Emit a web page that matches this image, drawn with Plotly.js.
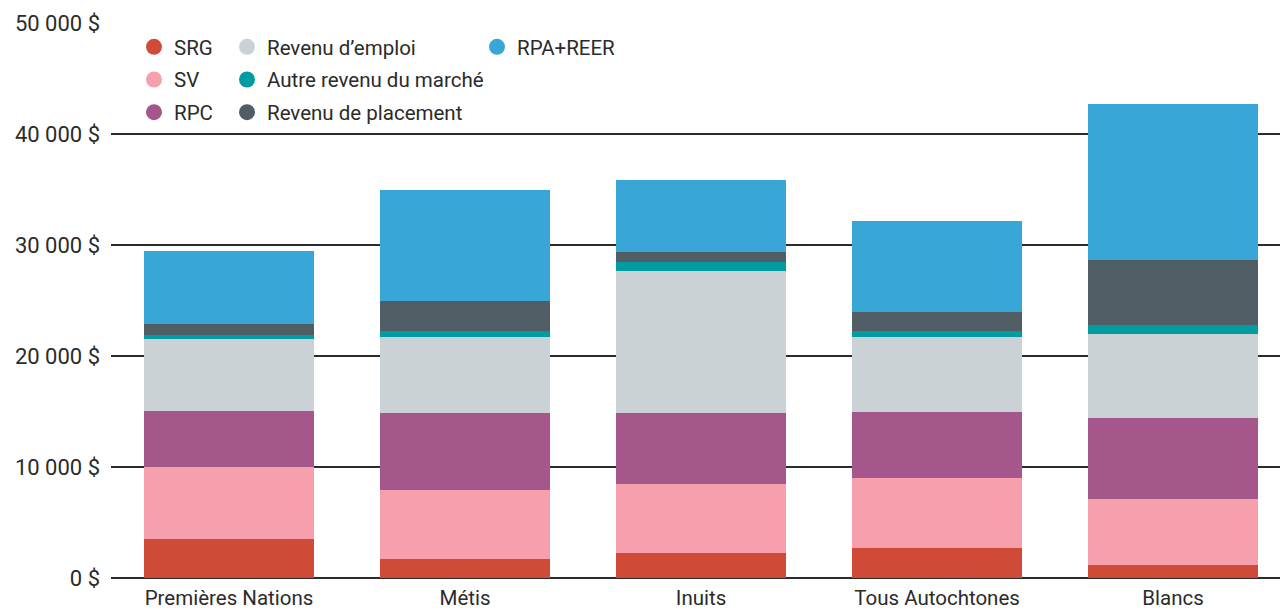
<!DOCTYPE html>
<html>
<head>
<meta charset="utf-8">
<script src="https://cdn.plot.ly/plotly-3.0.1.min.js"></script>
<style>
  html, body { margin: 0; padding: 0; background: #fff; }
  #chart { width: 1280px; height: 609px; }
</style>
</head>
<body>
<div id="chart"></div>
<script>
const groups = ["Premières Nations", "Métis", "Inuits", "Tous Autochtones", "Blancs"];

const srg = [3540, 1740, 2250, 2700, 1170];
const sv = [6460, 6210, 6220, 6310, 5950];
const rpc = [5070, 6940, 6400, 5950, 7300];
const emploi = [6490, 6850, 12790, 6760, 7570];
const autre = [360, 540, 810, 540, 810];
const placement = [990, 2700, 900, 1710, 5860];
const rpaReer = [6580, 10010, 6490, 8200, 14050];

const yTickVals = [0, 10000, 20000, 30000, 40000, 50000];
const yTickText = ["0 $", "10 000 $", "20 000 $", "30 000 $", "40 000 $", "50 000 $"];

const FONT = "Roboto, sans-serif";
const INK = "#2b2b2b";

const SERIES = [
  { name: "SRG", values: srg, color: "#d04b37", legend: "legend" },
  { name: "SV", values: sv, color: "#f5a0ac", legend: "legend" },
  { name: "RPC", values: rpc, color: "#a5568b", legend: "legend" },
  { name: "Revenu d’emploi", values: emploi, color: "#cad2d5", legend: "legend2" },
  { name: "Autre revenu du marché", values: autre, color: "#009ca1", legend: "legend2" },
  { name: "Revenu de placement", values: placement, color: "#515d65", legend: "legend2" },
  { name: "RPA+REER", values: rpaReer, color: "#38a6d6", legend: "legend3" },
];

const bars = SERIES.map((s) => ({
  type: "bar",
  name: s.name,
  x: groups,
  y: s.values,
  marker: { color: s.color, line: { width: 0 } },
  showlegend: false,
  hoverinfo: "x+y+name",
}));

// circle swatches for the legend (bar legends would draw squares)
const swatches = SERIES.map((s, i) => ({
  type: "scatter",
  mode: "markers",
  name: s.name,
  x: [null],
  y: [null],
  marker: { color: s.color, size: 16, symbol: "circle" },
  legend: s.legend,
  legendgroup: "g" + i,
  hoverinfo: "skip",
}));

// plot area: x 111..1280, y 23..578
function legendAt(left, top) {
  return {
    xref: "paper",
    yref: "paper",
    x: (left - 111) / 1169,
    y: 1 - (top - 23) / 555,
    xanchor: "left",
    yanchor: "top",
    bgcolor: "rgba(0,0,0,0)",
    borderwidth: 0,
    font: { family: FONT, size: 20.5, color: INK },
    tracegroupgap: 3,
    itemsizing: "trace",
  };
}

const layout = {
  width: 1280,
  height: 609,
  margin: { l: 111, r: 0, t: 23, b: 31 },
  paper_bgcolor: "#fff",
  plot_bgcolor: "#fff",
  font: { family: FONT, size: 20, color: INK },
  barmode: "stack",
  bargap: 0.28,
  showlegend: true,
  legend: legendAt(134, 27),
  legend2: legendAt(227, 27),
  legend3: legendAt(477, 27),
  xaxis: {
    type: "category",
    range: [-0.5, 4.453],
    showgrid: false,
    zeroline: false,
    showline: false,
    ticks: "",
    ticklabelstandoff: 5,
    tickfont: { family: FONT, size: 20.5, color: INK },
    fixedrange: true,
  },
  yaxis: {
    range: [0, 50000],
    tickvals: yTickVals,
    ticktext: yTickText,
    showgrid: true,
    gridcolor: INK,
    gridwidth: 1.5,
    zeroline: true,
    zerolinecolor: INK,
    zerolinewidth: 1.5,
    showline: false,
    ticks: "",
    ticklabelstandoff: 10,
    tickfont: { family: FONT, size: 22, color: INK },
    fixedrange: true,
  },
};

Plotly.newPlot("chart", bars.concat(swatches), layout, { displayModeBar: false, staticPlot: true });
</script>
</body>
</html>
